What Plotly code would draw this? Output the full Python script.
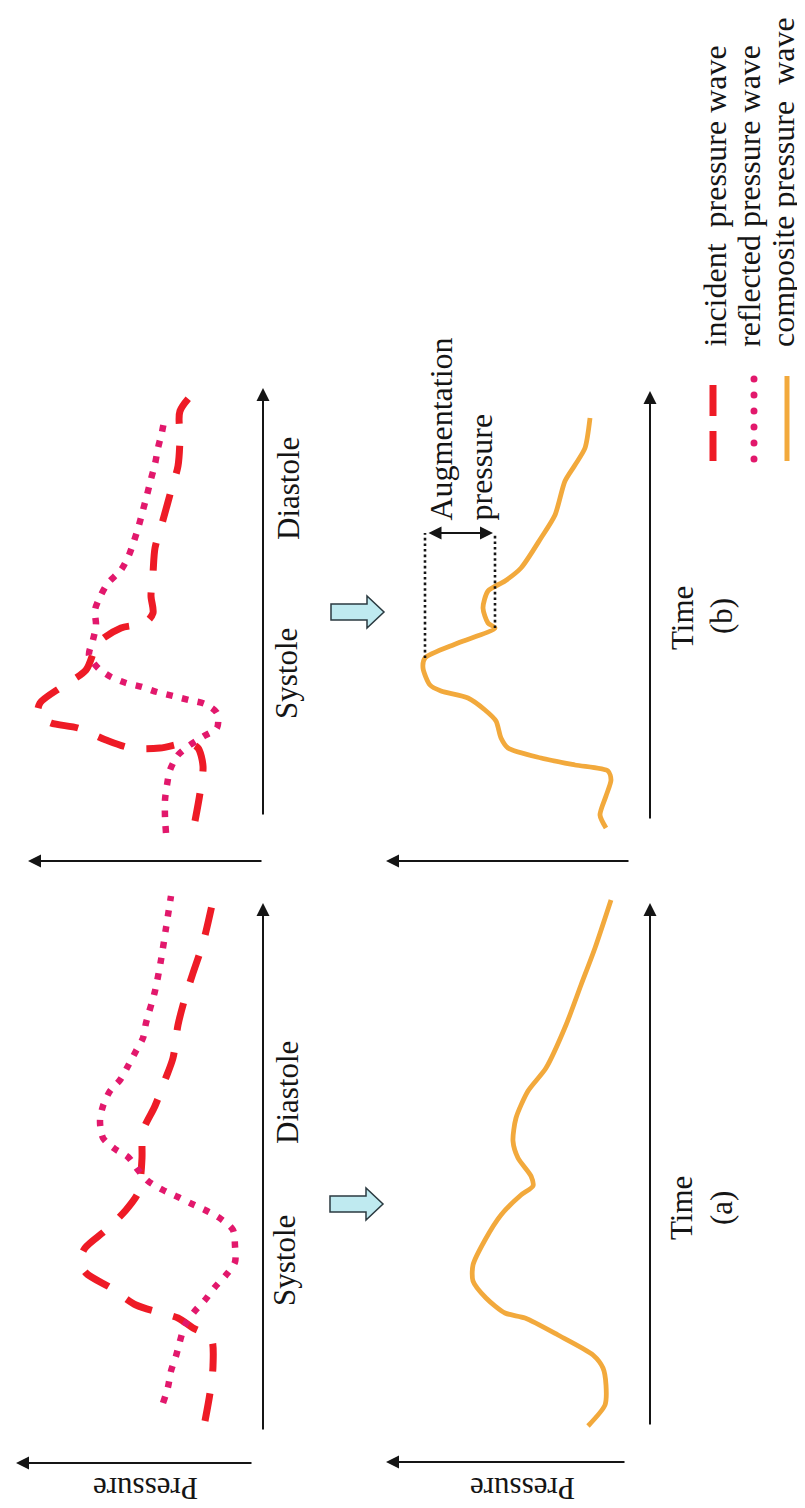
import plotly.graph_objects as go

# ---------------- data (time t, pressure p in arbitrary units) ----------------
# panel (a) upper: incident and reflected waves
inc_a_t = [10, 38, 65, 93, 103, 113, 118, 126, 143, 158, 170, 183, 201, 221, 238, 258, 273, 300, 325, 351, 373, 406, 433, 458, 488, 526]
inc_a_p = [58, 53, 50, 52, 70, 85, 102, 127, 152, 177, 183, 178, 157, 137, 125, 122, 121, 120, 108, 98, 90, 85, 78, 70, 60, 51]
ref_a_t = [28, 44, 60, 75, 90, 106, 119, 131, 144, 156, 169, 185, 201, 212, 220, 227, 234, 241, 250, 261, 274, 282, 293, 310, 325, 340, 351, 365, 380, 393, 408, 440, 471, 503, 535]
ref_a_p = [100, 95, 92, 87, 83, 78, 69, 58, 48, 37, 28, 28, 30, 42, 56, 71, 85, 100, 115, 125, 135, 148, 160, 163, 160, 153, 143, 135, 127, 120, 117, 108, 102, 97, 92]
# panel (a) lower: composite wave
comp_a_t = [5, 26, 46, 63, 76, 96, 113, 118, 133, 150, 166, 191, 216, 236, 245, 255, 273, 290, 313, 340, 363, 406, 446, 483, 531]
comp_a_p = [62, 45, 44, 47, 57, 92, 125, 145, 164, 177, 177, 165, 149, 129, 117, 119, 132, 137, 134, 122, 104, 84, 69, 55, 39]

# panel (b) upper: incident and reflected waves
inc_b_t = [-5, 23, 50, 68, 73, 68, 68, 76, 88, 93, 101, 113, 130, 146, 173, 188, 193, 203, 220, 243, 268, 296, 325, 350, 378, 405, 428]
inc_b_p = [68, 63, 60, 65, 75, 103, 132, 157, 185, 212, 225, 223, 200, 177, 165, 142, 118, 110, 112, 110, 108, 100, 92, 85, 83, 83, 65]
ref_b_t = [-17, -1, 16, 31, 46, 61, 71, 80, 88, 103, 112, 116, 120, 124, 129, 133, 139, 148, 161, 176, 191, 206, 221, 233, 246, 261, 275, 291, 306, 321, 337, 352, 368, 384, 400]
ref_b_p = [97, 98, 98, 96, 93, 85, 73, 59, 46, 46, 58, 74, 90, 106, 121, 137, 152, 165, 174, 170, 167, 168, 162, 155, 142, 134, 129, 124, 120, 116, 112, 108, 105, 101, 98]
# panel (b) lower: composite wave
comp_b_t = [-12, 1, 20, 36, 45, 51, 58, 68, 78, 95, 106, 118, 125, 131, 148, 158, 173, 188, 193, 208, 225, 235, 248, 278, 301, 335, 351, 368, 398]
comp_b_p = [44, 50, 44, 39, 42, 75, 109, 142, 149, 154, 165, 182, 209, 220, 227, 225, 192, 155, 162, 167, 162, 145, 129, 109, 95, 85, 75, 65, 60]

# augmentation pressure markers (peak and inflection of composite b)
aug_p = [225, 155]
aug_t = [158, 188]
aug_top_t = 283

labels_series = ["incident\u00a0\u00a0pressure wave", "reflected pressure wave", "composite pressure\u00a0\u00a0wave"]

# ---------------- styling ----------------
W, H = 805, 1508
RED = "#ee1b26"
PINK = "#e2186c"
ORANGE = "#f2a93c"
INK = "#151515"
FONT = "Liberation Serif"
FS = 31
ROT_DX = -9  # glyphs of rotated text sit right of the box centre

def dx(a, b):
    return [a / W, b / W]

def dy(top, bottom):
    return [1 - bottom / H, 1 - top / H]

fig = go.Figure()

inc_style = dict(color=RED, width=7, dash="28px,22px", shape="spline", smoothing=0.8)
ref_style = dict(color=PINK, width=6.5, dash="6.5px,9.5px", shape="spline", smoothing=0.8)
comp_style = dict(color=ORANGE, width=4.8, shape="spline", smoothing=0.7)

# panel (a) upper -> axes x/y
fig.add_trace(go.Scatter(x=inc_a_p, y=inc_a_t, mode="lines", line=inc_style, xaxis="x", yaxis="y", name="incident"))
fig.add_trace(go.Scatter(x=ref_a_p, y=ref_a_t, mode="lines", line=ref_style, xaxis="x", yaxis="y", name="reflected"))
# panel (b) upper -> x2/y2
fig.add_trace(go.Scatter(x=inc_b_p, y=inc_b_t, mode="lines", line=inc_style, xaxis="x2", yaxis="y2", name="incident"))
fig.add_trace(go.Scatter(x=ref_b_p, y=ref_b_t, mode="lines", line=ref_style, xaxis="x2", yaxis="y2", name="reflected"))
# panel (a) lower -> x3/y3
fig.add_trace(go.Scatter(x=comp_a_p, y=comp_a_t, mode="lines", line=comp_style, xaxis="x3", yaxis="y3", name="composite"))
# panel (b) lower -> x4/y4
fig.add_trace(go.Scatter(x=comp_b_p, y=comp_b_t, mode="lines", line=comp_style, xaxis="x4", yaxis="y4", name="composite"))
for p, t in zip(aug_p, aug_t):
    fig.add_trace(go.Scatter(x=[p, p], y=[t, aug_top_t], mode="lines",
                             line=dict(color=INK, width=2.6, dash="2.6px,3px"),
                             xaxis="x4", yaxis="y4", showlegend=False))
# canvas overlay (pixel coordinates) for decorations
fig.add_trace(go.Scatter(x=[0], y=[0], mode="markers", marker=dict(opacity=0),
                         xaxis="x5", yaxis="y5", hoverinfo="skip"))

hidden = dict(visible=False, fixedrange=True)
fig.update_layout(
    width=W, height=H, autosize=False,
    margin=dict(l=0, r=0, t=0, b=0),
    paper_bgcolor="white", plot_bgcolor="rgba(0,0,0,0)",
    showlegend=False,
    xaxis=dict(domain=dx(0, 330), range=[255, -75], anchor="y", **hidden),
    yaxis=dict(domain=dy(860, 1508), range=[-85, 563], anchor="x", **hidden),
    xaxis2=dict(domain=dx(0, 330), range=[255, -75], anchor="y2", **hidden),
    yaxis2=dict(domain=dy(270, 860), range=[-52, 538], anchor="x2", **hidden),
    xaxis3=dict(domain=dx(340, 670), range=[302, -28], anchor="y3", **hidden),
    yaxis3=dict(domain=dy(860, 1508), range=[-85, 563], anchor="x3", **hidden),
    xaxis4=dict(domain=dx(340, 670), range=[302, -28], anchor="y4", **hidden),
    yaxis4=dict(domain=dy(270, 860), range=[-52, 538], anchor="x4", **hidden),
    xaxis5=dict(domain=[0, 1], range=[0, W], anchor="y5", **hidden),
    yaxis5=dict(domain=[0, 1], range=[H, 0], anchor="x5", **hidden),
)

ann = []

def arrow(xr, yr, head, tail, both=False):
    ann.append(dict(xref=xr, yref=yr, axref=xr, ayref=yr,
                    x=head[0], y=head[1], ax=tail[0], ay=tail[1],
                    text="", showarrow=True, arrowhead=2, arrowsize=1.3,
                    arrowwidth=2, arrowcolor=INK, standoff=0, startstandoff=0,
                    arrowside="end+start" if both else "end",
                    startarrowhead=2, startarrowsize=1.3))

# axes arrows: time (vertical) and pressure (horizontal) for each panel
arrow("x", "y", (0, 528), (0, 0))
arrow("x", "y", (247, -32), (10, -32))
arrow("x2", "y2", (0, 428), (0, 0))
arrow("x2", "y2", (235, -45), (0, -45))
arrow("x3", "y3", (0, 528), (0, 5))
arrow("x3", "y3", (264, -31), (24, -31))
arrow("x4", "y4", (0, 425), (0, -4))
arrow("x4", "y4", (264, -45), (20, -45))
# augmentation double arrow
arrow("x4", "y4", (157, aug_top_t), (223, aug_top_t), both=True)

def label(text, x, y, angle=-90, xa="center", ya="middle", size=FS):
    if angle == -90:
        x = x + ROT_DX
    ann.append(dict(xref="x5", yref="y5", x=x, y=y, text=text, showarrow=False,
                    textangle=angle, xanchor=xa, yanchor=ya, borderpad=0,
                    font=dict(family=FONT, size=size, color=INK)))

label("Pressure", 138, 1481, angle=180)
label("Pressure", 515, 1481, angle=180)
label("Systole", 285, 1253)
label("Diastole", 288, 1085)
label("Systole", 287, 666)
label("Diastole", 289, 481)
label("Time", 682, 1200)
label("(a)", 722, 1200)
label("Time", 683, 610)
label("(b)", 722, 608)
label("Augmentation", 441, 514, ya="bottom", size=32)
label("pressure", 481, 514, ya="bottom", size=32)
label(labels_series[0], 715, 340, ya="bottom", size=32)
label(labels_series[1], 750, 340, ya="bottom", size=32)
label(labels_series[2], 784, 340, ya="bottom", size=32)

shapes = []
# legend swatches
shapes.append(dict(type="line", xref="x5", yref="y5", x0=705, x1=705, y0=377, y1=408, line=dict(color=RED, width=7)))
shapes.append(dict(type="line", xref="x5", yref="y5", x0=705, x1=705, y0=423, y1=453, line=dict(color=RED, width=7)))
for cy in [371, 387, 403, 419, 435, 451]:
    shapes.append(dict(type="circle", xref="x5", yref="y5", x0=742.5, x1=749.5, y0=cy - 3.5, y1=cy + 3.5,
                       fillcolor=PINK, line=dict(width=0)))
shapes.append(dict(type="line", xref="x5", yref="y5", x0=779, x1=779, y0=368, y1=453, line=dict(color=ORANGE, width=5)))

# block arrows (a) -> and (b) ->
def block_arrow(x0, yc):
    path = (f"M {x0},{yc-8} L {x0+36},{yc-8} L {x0+36},{yc-16} L {x0+53},{yc} "
            f"L {x0+36},{yc+16} L {x0+36},{yc+8} L {x0},{yc+8} Z")
    shapes.append(dict(type="path", xref="x5", yref="y5", path=path,
                       fillcolor="#bfeaf0", line=dict(color="#2b3a40", width=1.5)))

block_arrow(322, 1196)
block_arrow(323, 604)

fig.update_layout(annotations=ann, shapes=shapes)
fig.write_html("out.html")
